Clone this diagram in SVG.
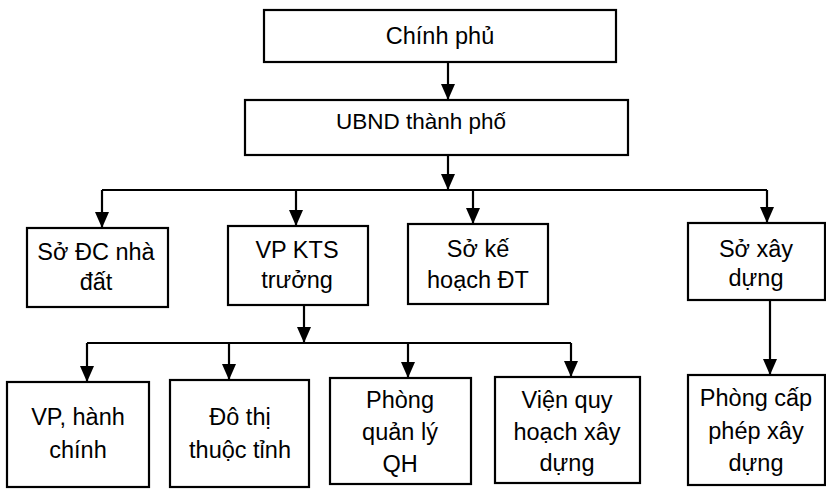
<svg xmlns="http://www.w3.org/2000/svg" width="826" height="489" viewBox="0 0 826 489">
<style>
.box{fill:#fff;stroke:#000;stroke-width:2.2}
.t{font-family:"Liberation Sans",Arial,sans-serif;font-size:23.5px;fill:#000;text-anchor:middle}
.c{fill:none;stroke:#000;stroke-width:2.2}
</style>
<defs>
<marker id="ad" markerUnits="userSpaceOnUse" markerWidth="16" markerHeight="14" refX="16" refY="7" orient="auto" viewBox="0 0 16 14">
<path d="M0,0 L16,7 L0,14 Z" fill="#000"/>
</marker>
</defs>
<g id="connectors">
<path class="c" d="M448,62 V100" marker-end="url(#ad)"/>
<path class="c" d="M448,155 V190" marker-end="url(#ad)"/>
<path class="c" d="M102,190 H767"/>
<path class="c" d="M102,190 V228" marker-end="url(#ad)"/>
<path class="c" d="M296,190 V226" marker-end="url(#ad)"/>
<path class="c" d="M473,190 V224" marker-end="url(#ad)"/>
<path class="c" d="M767,190 V223" marker-end="url(#ad)"/>
<path class="c" d="M304,305 V343" marker-end="url(#ad)"/>
<path class="c" d="M87,343 H571"/>
<path class="c" d="M87,343 V382" marker-end="url(#ad)"/>
<path class="c" d="M229,343 V380" marker-end="url(#ad)"/>
<path class="c" d="M408,343 V378" marker-end="url(#ad)"/>
<path class="c" d="M571,343 V377" marker-end="url(#ad)"/>
<path class="c" d="M770,300 V375" marker-end="url(#ad)"/>
</g>
<g id="chinh-phu">
<rect class="box" x="264" y="10" width="352" height="52"/>
<text class="t" x="440" y="44">Chính phủ</text>
</g>
<g id="ubnd">
<rect class="box" x="245" y="100" width="383" height="55"/>
<text class="t" x="421" y="129" style="font-size:22.5px">UBND thành phố</text>
</g>
<g id="so-dc">
<rect class="box" x="27" y="228" width="141" height="79"/>
<text class="t" x="96" y="260">Sở ĐC nhà</text>
<text class="t" x="96" y="290">đất</text>
</g>
<g id="vp-kts">
<rect class="box" x="228" y="226" width="140" height="79"/>
<text class="t" x="297" y="258">VP KTS</text>
<text class="t" x="297" y="288">trưởng</text>
</g>
<g id="so-ke-hoach">
<rect class="box" x="408" y="224" width="140" height="80"/>
<text class="t" x="478" y="257">Sở kế</text>
<text class="t" x="478" y="288">hoạch ĐT</text>
</g>
<g id="so-xay-dung">
<rect class="box" x="688" y="223" width="137" height="77"/>
<text class="t" x="756" y="257">Sở xây</text>
<text class="t" x="756" y="286">dựng</text>
</g>
<g id="vp-hanh-chinh">
<rect class="box" x="7" y="382" width="142" height="105"/>
<text class="t" x="78" y="425">VP, hành</text>
<text class="t" x="78" y="458">chính</text>
</g>
<g id="do-thi">
<rect class="box" x="170" y="380" width="139" height="107"/>
<text class="t" x="240" y="425">Đô thị</text>
<text class="t" x="240" y="458">thuộc tỉnh</text>
</g>
<g id="phong-qlqh">
<rect class="box" x="330" y="378" width="141" height="106"/>
<text class="t" x="400" y="408">Phòng</text>
<text class="t" x="400" y="440">quản lý</text>
<text class="t" x="400" y="472">QH</text>
</g>
<g id="vien-quy-hoach">
<rect class="box" x="495" y="377" width="145" height="106"/>
<text class="t" x="567" y="408">Viện quy</text>
<text class="t" x="567" y="440">hoạch xây</text>
<text class="t" x="567" y="471">dựng</text>
</g>
<g id="phong-cap-phep">
<rect class="box" x="688" y="375" width="137" height="110"/>
<text class="t" x="756" y="406">Phòng cấp</text>
<text class="t" x="756" y="439">phép xây</text>
<text class="t" x="756" y="471">dựng</text>
</g>
</svg>
